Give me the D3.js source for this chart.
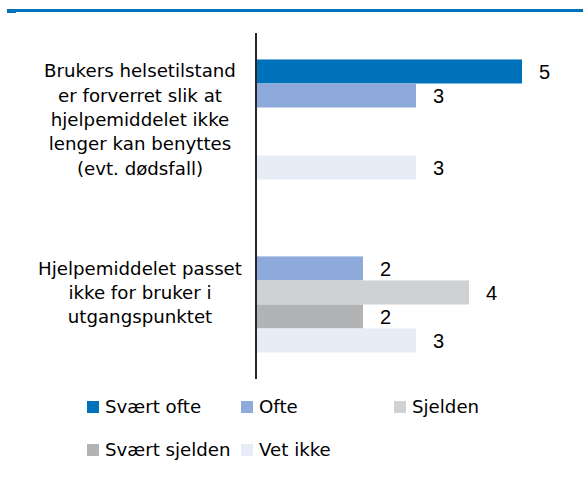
<!DOCTYPE html>
<html><head><meta charset="utf-8">
<script src="https://cdn.jsdelivr.net/npm/d3@7"></script>
<style>
html,body{margin:0;padding:0;background:#fff;}
svg{display:block;}
text{font-family:"DejaVu Sans",sans-serif;fill:#000;}
</style></head>
<body>
<svg id="c" width="583" height="477"></svg>
<script>
const categories = [
  ["Brukers helsetilstand","er forverret slik at","hjelpemiddelet ikke","lenger kan benyttes","(evt. dødsfall)"],
  ["Hjelpemiddelet passet","ikke for bruker i","utgangspunktet"]
];
const seriesNames = ["Svært ofte","Ofte","Sjelden","Svært sjelden","Vet ikke"];
const seriesColors = ["#0072bc","#8eaadb","#d0d1d3","#b2b3b5","#e8ecf7"];
// values[series][category]; null = no bar
const svaertOfte   = [5, null];
const ofte         = [3, 2];
const sjelden      = [null, 4];
const svaertSjelden= [null, 2];
const vetIkke      = [3, 3];
const values = [svaertOfte, ofte, sjelden, svaertSjelden, vetIkke];

const svg = d3.select("#c");

// top rule
svg.append("rect").attr("x",7).attr("y",9).attr("width",576).attr("height",3).attr("fill","#0072bc");
svg.append("rect").attr("x",7).attr("y",9).attr("width",9).attr("height",4).attr("fill","#0072bc");

const axisX = 257;
const y0 = d3.scaleBand().domain(d3.range(categories.length)).range([33,379]).paddingInner(0.305).paddingOuter(0.153);
const y1 = d3.scaleBand().domain(d3.range(seriesNames.length)).range([0,y0.bandwidth()]);
const x = d3.scaleLinear().domain([0,5]).range([axisX,522]);

const g = svg.append("g");
categories.forEach((cat,ci)=>{
  seriesNames.forEach((s,si)=>{
    const v = values[si][ci];
    if(v==null) return;
    const yy = y0(ci)+y1(si);
    g.append("rect").attr("x",x(0)).attr("y",yy).attr("width",x(v)-x(0)).attr("height",y1.bandwidth())
      .attr("fill",seriesColors[si]);
    g.append("text").attr("x",x(v)+17).attr("y",yy+y1.bandwidth()/2).attr("dy","0.36em")
      .style("font-family","'Liberation Sans',Arial,sans-serif").style("font-size","20px").text(v);
  });
  // category label
  const cy = y0(ci)+y0.bandwidth()/2;
  const n = cat.length, lh = 24.3;
  const t = svg.append("text").attr("text-anchor","middle").style("font-size","18.2px");
  cat.forEach((line,li)=>{
    t.append("tspan").attr("x",140).attr("y",cy + (li-(n-1)/2)*lh).attr("dy","0.35em").text(line);
  });
});

// axis line
svg.append("line").attr("x1",256).attr("x2",256).attr("y1",33).attr("y2",379).attr("stroke","#262626").attr("stroke-width",2);

// legend
const legPos = [[87,401],[241,401],[394,401],[87,444],[241,444]];
seriesNames.forEach((s,i)=>{
  const [lx,ly] = legPos[i];
  svg.append("rect").attr("x",lx).attr("y",ly).attr("width",12).attr("height",12).attr("fill",seriesColors[i]);
  svg.append("text").attr("x",lx+18).attr("y",ly+6).attr("dy","0.35em").style("font-size","18.2px").text(s);
});
</script>
</body></html>
